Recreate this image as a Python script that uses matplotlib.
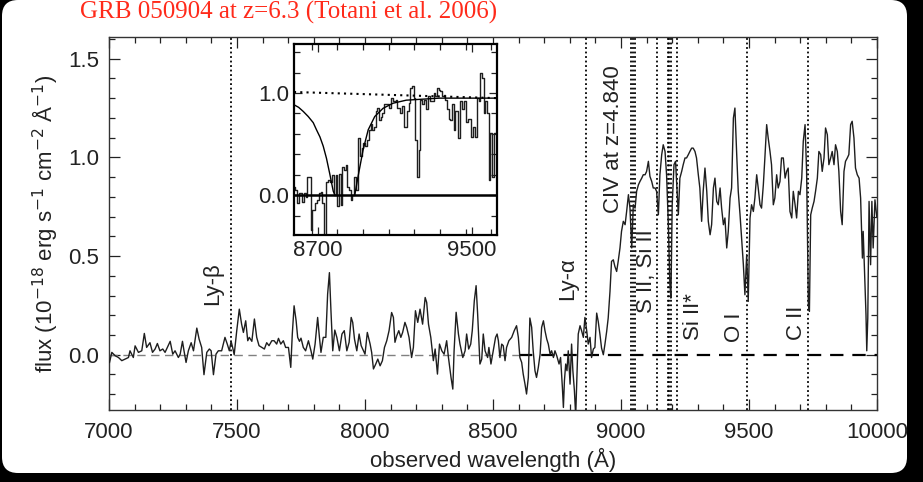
import matplotlib
matplotlib.use("Agg")
import matplotlib.pyplot as plt
from matplotlib.patches import FancyBboxPatch
from matplotlib.transforms import IdentityTransform
from matplotlib.ticker import MultipleLocator, FixedLocator, FormatStrFormatter

plt.rcParams['font.family'] = ['Liberation Sans', 'DejaVu Sans']

# ---------------- main spectrum (observed wavelength in Angstrom, flux) ----------------
wave = [7002, 7011, 7024, 7037, 7050, 7063, 7076, 7082, 7095, 7102, 7115, 7128, 7138, 7147,
        7160, 7170, 7180, 7189, 7199, 7210, 7219, 7228, 7239, 7249, 7258, 7271, 7278, 7287,
        7293, 7301, 7310, 7321, 7330, 7343, 7352, 7362, 7371, 7382, 7392, 7399, 7408, 7418,
        7427, 7440, 7453, 7462, 7470, 7477, 7483, 7489, 7499, 7509, 7518, 7525, 7534, 7542,
        7548, 7558, 7568, 7577, 7586, 7597, 7607, 7616, 7625, 7636, 7645, 7655, 7662, 7671,
        7681, 7690, 7701, 7710, 7716, 7723, 7731, 7737, 7744, 7750, 7759, 7768, 7779, 7789,
        7796, 7805, 7815, 7822, 7828, 7837, 7847, 7854, 7861, 7867, 7874, 7882, 7890, 7900,
        7910, 7919, 7929, 7938, 7946, 7952, 7959, 7968, 7977, 7985, 7994, 8000, 8009, 8020,
        8026, 8033, 8042, 8050, 8059, 8068, 8076, 8085, 8094, 8104, 8111, 8117, 8124, 8132,
        8140, 8147, 8156, 8163, 8172, 8182, 8189, 8197, 8206, 8215, 8225, 8235, 8241, 8248,
        8257, 8267, 8274, 8283, 8291, 8300, 8309, 8319, 8326, 8336, 8343, 8348, 8356, 8365,
        8371, 8382, 8391, 8397, 8405, 8413, 8419, 8427, 8434, 8440, 8449, 8456, 8462,
        8469, 8479, 8484, 8492, 8501, 8510, 8516, 8521, 8527, 8534, 8540, 8547, 8553, 8562,
        8573, 8583, 8592, 8599, 8605, 8612, 8618, 8625, 8631, 8638, 8644, 8651, 8657, 8664,
        8670, 8677, 8684, 8690, 8697, 8703, 8710, 8716, 8723, 8729, 8736, 8742, 8749, 8758,
        8764, 8771, 8775, 8779, 8784, 8789, 8794, 8801, 8807, 8812, 8818, 8823, 8828, 8833,
        8840, 8846, 8853, 8859, 8866, 8872, 8879, 8885, 8892, 8898,
        8905, 8911, 8918, 8924, 8931, 8937, 8944, 8950, 8957, 8963, 8970, 8976, 8983, 8989,
        8996, 9002, 9009, 9016, 9022, 9029, 9035, 9042, 9048, 9055, 9061, 9068, 9074, 9081,
        9087, 9094, 9100, 9107, 9113, 9120, 9126, 9133, 9139, 9146, 9152, 9159, 9165, 9172,
        9178, 9185, 9191, 9195, 9200, 9207, 9213, 9217, 9224, 9230, 9237, 9243, 9250, 9256,
        9263, 9269, 9276, 9282, 9289, 9295, 9302, 9308, 9315, 9321, 9328, 9335, 9341, 9348,
        9354, 9361, 9367, 9374, 9380, 9387, 9393, 9400, 9406, 9413, 9419, 9426, 9432, 9439,
        9445, 9452, 9458, 9465, 9471, 9478, 9484, 9491, 9497, 9504, 9510, 9517, 9523, 9530,
        9536, 9543, 9549, 9556, 9562, 9569, 9575, 9582, 9588, 9595, 9601, 9608, 9614, 9621,
        9627, 9634, 9641, 9647, 9653, 9660, 9667, 9673, 9680, 9686, 9693, 9699, 9706, 9712,
        9719, 9725, 9732, 9736, 9741, 9747, 9754, 9760, 9767, 9773, 9780, 9786, 9793, 9799,
        9806, 9812, 9819, 9825, 9832, 9838, 9845, 9851, 9858, 9864, 9871, 9877, 9884, 9890,
        9897, 9903, 9910, 9916, 9923, 9930, 9936, 9943, 9946, 9952, 9957, 9960, 9964, 9969,
        9975, 9980, 9985, 9992, 9999]
flux = [-0.039, 0.012, -0.005, -0.014, -0.030, -0.022, -0.014, 0.020, -0.014, 0.045, 0.012,
        0.020, 0.108, 0.037, 0.061, 0.012, 0.029, 0.057, 0.020, 0.029, 0.012, 0.037, 0.068,
        0.003, 0.020, -0.014, 0.003, 0.068, 0.020, -0.039, 0.020, 0.061, 0.020, 0.135, 0.079,
        0.037, -0.101, 0.012, 0.029, 0.020, -0.101, 0.003, 0.020, 0.020, 0.088, 0.054, 0.020,
        0.068, 0.037, 0.000, 0.122, 0.231, 0.155, 0.113, 0.172, 0.071, 0.088, 0.068, 0.181,
        0.088, 0.046, 0.037, 0.029, 0.061, 0.046, 0.071, 0.071, 0.054, 0.083, 0.054, 0.071,
        0.037, 0.037, -0.064, 0.105, 0.248, 0.172, 0.088, 0.068, 0.084, 0.037, 0.020, 0.071,
        0.020, -0.022, 0.054, 0.189, 0.088, 0.012, 0.088, 0.088, 0.307, 0.416, 0.223, 0.020,
        0.125, 0.088, 0.020, 0.105, 0.122, 0.020, 0.063, 0.189, 0.164, 0.079, 0.020, 0.105,
        0.046, 0.020, 0.003, 0.113, 0.054, 0.012, -0.072, -0.047, -0.022, -0.056, -0.030,
        0.037, 0.071, 0.122, 0.214, 0.189, 0.063, 0.096, 0.122, 0.088, 0.113, 0.164, 0.138,
        0.088, -0.014, 0.037, 0.223, 0.164, 0.231, 0.155, 0.290, 0.265, 0.155, 0.088, -0.030,
        0.029, -0.098, 0.054, 0.020, 0.003, 0.071, -0.014, -0.115, -0.174, 0.020, 0.215,
        0.105, 0.054, -0.014, 0.020, 0.105, 0.029, 0.054, 0.122, 0.274, 0.350, 0.206, -0.047,
        -0.022, 0.105,
        0.020, -0.014, 0.037, -0.047, 0.020, 0.088, 0.105, 0.071, -0.014, 0.054, 0.046,
        -0.030, 0.037, 0.071, 0.088, 0.122, 0.147, 0.088, -0.014, -0.039, -0.098, -0.149,
        -0.199, -0.115, 0.186, 0.139, 0.020, -0.081, -0.115, -0.064, 0.003, 0.139, 0.172,
        0.122, 0.079, 0.054, 0.003, 0.020, -0.014, 0.020, -0.005, -0.047, -0.014, -0.165,
        -0.267, -0.132, -0.047, -0.081, 0.020, -0.149, 0.054, -0.081, -0.182, -0.310, -0.098,
        0.105, 0.147, 0.122, 0.088, 0.189, 0.122, 0.054, 0.088, -0.014, 0.029, 0.037,
        0.211, 0.169, 0.101, 0.034, 0.000, 0.051, 0.118, 0.186, 0.321, 0.473, 0.481, 0.448,
        0.422, 0.473, 0.541, 0.625, 0.676, 0.659, 0.726, 0.811, 0.743, 0.541, 0.760, 0.743,
        0.828, 0.861, 0.878, 0.895, 0.912, 0.912, 0.929, 0.980, 0.904, 0.878, 0.845, 0.845,
        0.828, 0.709, 0.912, 1.014, 1.064, 1.030, 0.912, 0.659, 0.355, 0.287, 0.760, 0.963,
        0.980, 0.878, 0.709, 0.895, 0.929, 0.963, 0.997, 0.997, 1.014, 1.030, 1.047, 1.047,
        1.030, 0.997, 0.912, 0.845, 0.676, 0.828, 0.946, 0.828, 0.676, 0.608, 0.659, 0.845,
        0.895, 0.777, 0.760, 0.845, 0.743, 0.659, 0.693, 0.541, 0.625, 0.794, 0.845, 1.199,
        1.250, 1.014, 0.828, 0.709, 0.591, 0.456, 0.304, 0.507, 0.270, 0.693, 0.760, 0.726,
        0.794, 0.912, 0.845, 0.760, 0.743, 0.861, 0.997, 1.166, 1.098, 1.030, 0.963, 0.760,
        0.794, 0.912, 0.845, 0.878, 0.997, 0.997, 0.895, 0.929, 0.946, 0.726, 0.693, 0.828,
        0.760, 0.693, 0.828, 0.811, 0.895, 1.081, 1.166, 0.929, 0.253, 0.220, 0.709, 0.743,
        0.777, 0.828, 0.895, 1.030, 1.014, 0.929, 0.997, 1.149, 1.115, 0.963, 0.997, 1.030,
        0.963, 1.064, 1.030, 0.929, 0.726, 0.659, 0.929, 0.980, 0.997, 1.014, 1.166, 1.183,
        1.098, 0.946, 0.912, 0.895, 0.794, 0.490, 0.625, 0.389, 0.203, 0.020, 0.186, 0.777,
        0.456, 0.777, 0.541, 0.785, 0.700]

# absorption line positions (observed wavelength) and labels
line_waves = [7478, 8862, 9038, 9045, 9053, 9140, 9182, 9188, 9194, 9220, 9493, 9729]
label_texts = ["Ly-β", "Ly-α", "CIV at z=4.840", "S II, Si II", "Si II*", "O I", "C II"]
label_waves = [7405, 8790, 8969, 9101, 9285, 9445, 9687]
label_flux = [0.25, 0.276, 0.72, 0.21, 0.073, 0.063, 0.073]

# ---------------- inset spectrum ----------------
in_wave = [8574, 8588, 8596, 8608, 8619, 8631, 8639, 8648, 8660, 8665, 8674, 8688, 8700,
           8709, 8717, 8726, 8735, 8743, 8757, 8769, 8778, 8787, 8795, 8804, 8812, 8821,
           8830, 8838, 8847, 8856, 8864, 8873, 8882, 8890, 8902, 8913, 8921, 8930, 8939,
           8951, 8960, 8968, 8977, 8985, 8994, 9003, 9011, 9020, 9029, 9037, 9051, 9063,
           9072, 9081, 9098, 9107, 9115, 9133, 9141, 9155, 9164, 9176, 9184, 9193, 9202,
           9210, 9219, 9228, 9236, 9245, 9259, 9267, 9276, 9285, 9297, 9306, 9314, 9323,
           9331, 9340, 9349, 9357, 9366, 9375, 9383, 9392, 9401, 9409, 9418, 9432, 9440,
           9453, 9463, 9473, 9487, 9499, 9513, 9522, 9530, 9539, 9548, 9556, 9565, 9574,
           9582, 9591, 9601, 9608, 9617]
in_flux = [0.08, 0.05, -0.08, 0.02, -0.07, 0.02, -0.02, 0.18, 0.18, -0.34, -0.15, -0.08,
           -0.05, 0.02, 0.03, -0.08, -0.39, 0.13, 0.15, 0.13, 0.20, 0.00, 0.20, -0.11, 0.21,
           -0.10, 0.28, 0.25, 0.30, 0.08, 0.05, -0.05, 0.00, 0.18, 0.05, 0.56, 0.38, 0.46,
           0.51, 0.48, 0.54, 0.64, 0.70, 0.64, 0.67, 0.82, 0.85, 0.74, 0.77, 0.80, 0.89,
           0.89, 0.85, 0.95, 0.92, 0.93, 0.85, 0.80, 0.87, 0.67, 0.82, 0.90, 1.05, 1.07,
           0.95, 0.54, 0.18, 0.44, 0.93, 0.89, 0.93, 0.84, 0.97, 0.92, 0.92, 1.00, 0.97,
           1.05, 1.03, 1.02, 0.97, 0.98, 0.93, 0.84, 0.75, 0.74, 0.89, 0.64, 0.82, 0.56,
           0.92, 0.84, 0.92, 0.72, 0.75, 0.57, 0.67, 0.57, 0.95, 0.92, 1.20, 1.15, 0.80,
           0.92, 0.80, 0.15, 0.61, 0.18, 0.61]

# damping-wing model curves and continuum
wing_wave = [8890, 8907, 8933, 8960, 8994, 9037, 9089, 9158, 9245, 9331, 9480, 9629]
wing_flux = [0.00, 0.18, 0.44, 0.64, 0.77, 0.85, 0.90, 0.93, 0.94, 0.95, 0.95, 0.95]
blue_wave = [8574, 8598, 8622, 8648, 8674, 8691, 8709, 8726, 8743, 8761, 8778, 8787]
blue_flux = [0.885, 0.86, 0.82, 0.77, 0.71, 0.64, 0.57, 0.48, 0.36, 0.20, 0.04, 0.00]
cont_wave = [8574, 9629]
cont_flux = [1.01, 0.95]

# ---------------- figure ----------------
W, H = 923, 482
FS = 16
fig = plt.figure(figsize=(W / 100, H / 100), dpi=100)
fig.patch.set_facecolor('black')
panel = FancyBboxPatch((2, 9), 905, 473, boxstyle='round,pad=0,rounding_size=16',
                       transform=IdentityTransform(), facecolor='white', edgecolor='none',
                       zorder=-10)
fig.add_artist(panel)

ax = fig.add_axes([109 / W, 1 - 410 / H, 768 / W, 373 / H])
ax.set_xlim(7000, 10000)
ax.set_ylim(-0.28, 1.61)

ax.plot(wave, flux, color='#1e1e1e', lw=1.0, zorder=3)
ax.plot([7000, 8600], [0, 0], color='#808080', lw=1.0, ls=(0, (6, 4)), zorder=2)
ax.plot([8600, 10000], [0, 0], color='black', lw=1.6, ls=(0, (6, 4)), zorder=2)
for w in line_waves:
    ax.axvline(w, color='black', lw=1.3, ls=(0, (1, 1.5)), zorder=2)
for t, w, f in zip(label_texts, label_waves, label_flux):
    ax.text(w, f, t, rotation=90, ha='center', va='bottom', fontsize=FS, color='#222222')

ax.xaxis.set_major_locator(MultipleLocator(500))
ax.xaxis.set_minor_locator(MultipleLocator(100))
ax.yaxis.set_major_locator(MultipleLocator(0.5))
ax.yaxis.set_minor_locator(MultipleLocator(0.1))
ax.yaxis.set_major_formatter(FormatStrFormatter('%.1f'))
ax.tick_params(which='both', direction='in', top=True, right=True, labelsize=FS,
               colors='#222222', width=0.9)
ax.tick_params(axis='x', which='major', pad=9)
ax.tick_params(axis='y', which='major', pad=7)
ax.tick_params(which='major', length=8)
ax.tick_params(which='minor', length=4)
for s in ax.spines.values():
    s.set_linewidth(1.0)
    s.set_color('#333333')
ax.set_xlabel('observed wavelength (Å)', fontsize=FS, color='#222222', labelpad=3)
ax.set_ylabel('flux (10$^{-18}$ erg s$^{-1}$ cm$^{-2}$ Å$^{-1}$)', fontsize=FS,
              color='#222222', labelpad=6)

# inset
axi = fig.add_axes([294 / W, 1 - 235 / H, 203 / W, 191 / H])
axi.set_xlim(8574, 9630)
axi.set_ylim(-0.39, 1.48)
axi.plot(in_wave, in_flux, drawstyle='steps-mid', color='#1e1e1e', lw=1.0)
axi.axhline(0, color='black', lw=1.8)
axi.plot(cont_wave, cont_flux, color='black', lw=1.5, ls=(0, (1, 2)))
axi.plot(wing_wave, wing_flux, color='black', lw=1.0)
axi.plot(blue_wave, blue_flux, color='black', lw=1.0)
axi.xaxis.set_major_locator(FixedLocator([8700, 9500]))
axi.xaxis.set_minor_locator(MultipleLocator(800 / 6))
axi.yaxis.set_major_locator(FixedLocator([0.0, 1.0]))
axi.yaxis.set_minor_locator(MultipleLocator(0.2))
axi.yaxis.set_major_formatter(FormatStrFormatter('%.1f'))
axi.tick_params(which='both', direction='in', top=True, right=True, labelsize=FS,
                colors='#222222', width=0.9)
axi.tick_params(which='major', length=6)
axi.tick_params(which='minor', length=4)
for s in axi.spines.values():
    s.set_linewidth(1.6)

fig.text(80 / W, 1 - 1 / H, 'GRB 050904 at z=6.3 (Totani et al. 2006)',
         family=['Liberation Serif', 'DejaVu Serif'], fontsize=18, color='#ff2a1a',
         ha='left', va='top')

fig.savefig('out.png', dpi=100, facecolor=fig.get_facecolor())
